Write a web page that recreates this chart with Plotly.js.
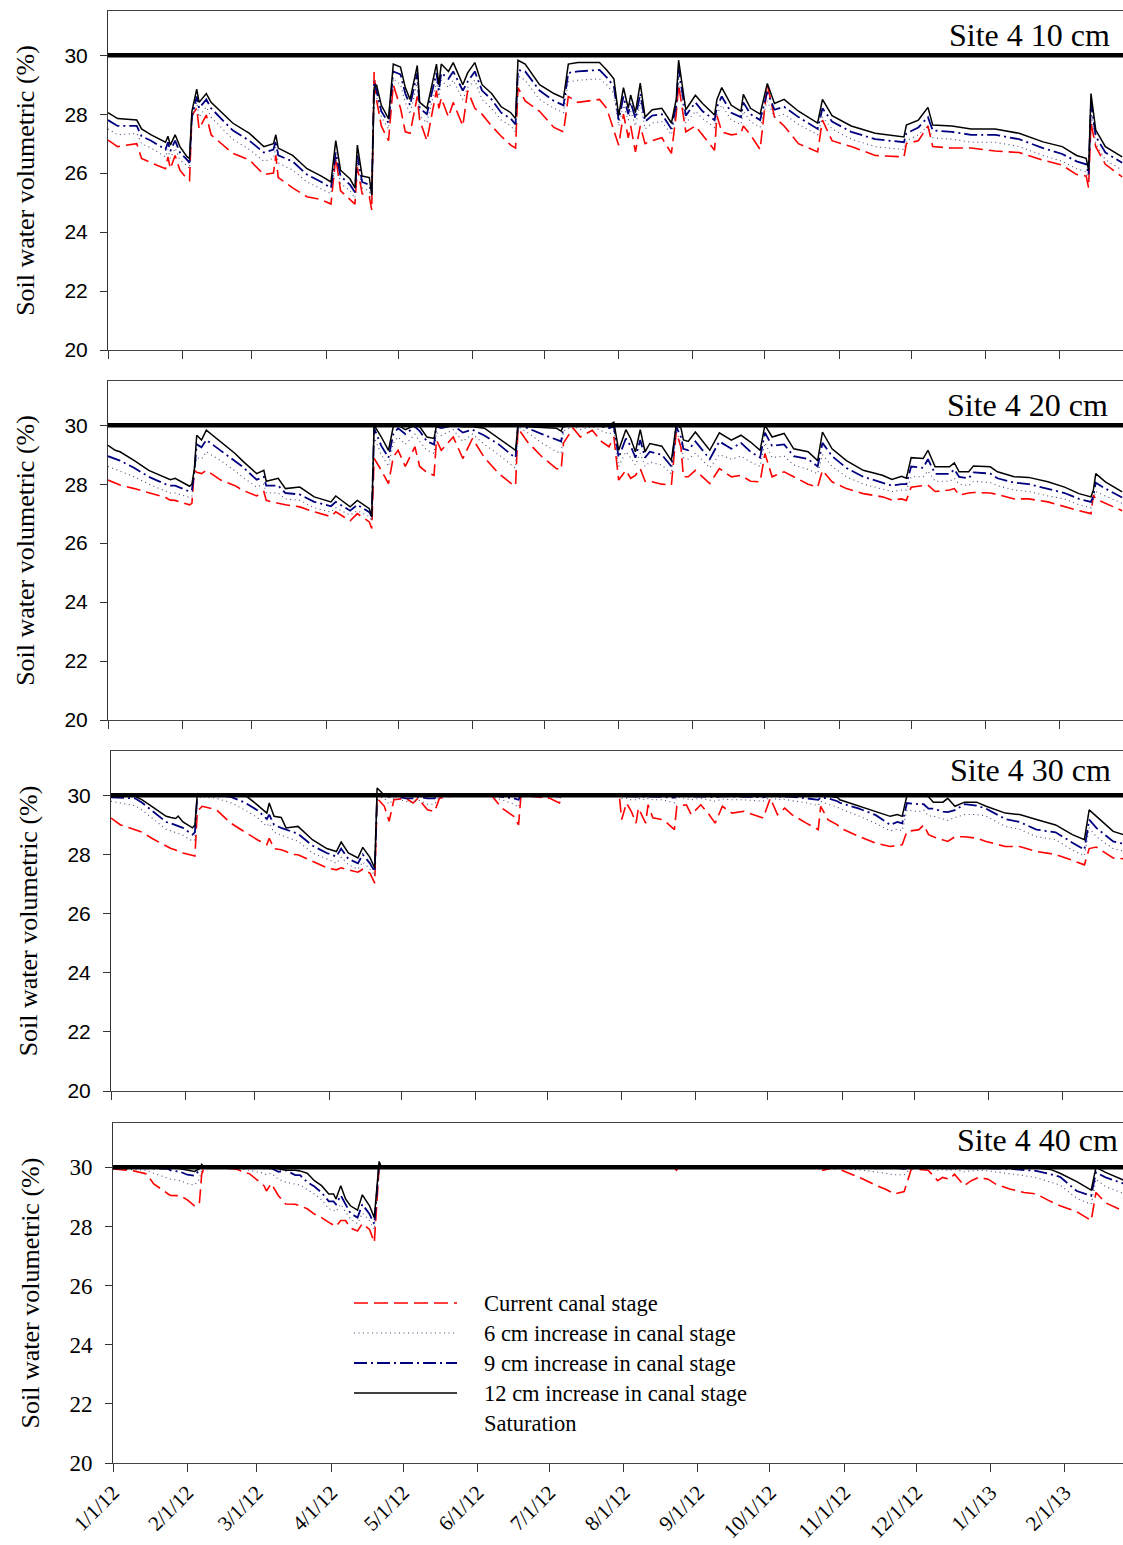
<!DOCTYPE html>
<html><head><meta charset="utf-8">
<script src="https://cdn.plot.ly/plotly-3.0.1.min.js"></script>
<style>html,body{margin:0;padding:0;background:#fff}#chart{width:1123px;height:1545px}</style>
</head><body><div id="chart"></div>
<script>
// ---------- DATA (days since 1 Jan 2012, soil water volumetric %) ----------
const seriesNames = ['Current canal stage','6 cm increase in canal stage','9 cm increase in canal stage','12 cm increase in canal stage','Saturation'];
const panelTitles = ['Site 4 10 cm','Site 4 20 cm','Site 4 30 cm','Site 4 40 cm'];
const yTitle = 'Soil water volumetric (%)';
const tickDates = ['2012-01-01','2012-02-01','2012-03-01','2012-04-01','2012-05-01','2012-06-01','2012-07-01','2012-08-01','2012-09-01','2012-10-01','2012-11-01','2012-12-01','2013-01-01','2013-02-01'];
const tickLabels = ['1/1/12','2/1/12','3/1/12','4/1/12','5/1/12','6/1/12','7/1/12','8/1/12','9/1/12','10/1/12','11/1/12','12/1/12','1/1/13','2/1/13'];
const yTicks = [20,22,24,26,28,30];
const satDays = [0, 425];
const satValues = [30, 30];

// Panel 1 : 10 cm
const p1Days = [0,4,12,14,18,24,25,26,28,30,33,34,35,37,38,41,43,52,59,65,69,70,71,77,83,89,93,95,97,101,103,104,106,109,110,111,112,114,117,119,122,124,126,129,130,133,137,138,139,142,144,148,150,153,156,160,164,168,170,171,174,180,186,190,192,196,205,208,211,213,215,217,218,220,222,224,227,231,235,237,238,241,245,248,253,254,256,260,264,265,268,272,275,278,282,288,296,298,302,310,320,332,333,338,342,344,352,360,370,380,390,398,404,408,409,410,412,416,423];
const p1Inc12 = [28.05,27.85,27.8,27.5,27.3,27.05,27.25,26.95,27.3,26.9,26.55,26.5,28.1,28.85,28.4,28.7,28.4,27.7,27.35,26.9,27.0,27.3,26.85,26.6,26.15,25.9,25.7,27.1,26.1,25.8,25.5,26.95,25.9,25.85,25.25,28.9,29.0,28.3,27.85,29.7,29.6,28.9,28.5,29.65,28.4,28.2,29.7,29.0,29.7,29.45,29.75,29.0,29.4,29.75,29.0,28.7,28.25,28.05,27.85,29.83,29.7,29.0,28.7,28.55,29.7,29.75,29.75,29.5,29.2,27.95,28.9,28.2,28.65,28.05,29.05,27.9,28.15,28.2,27.7,28.5,29.83,28.15,28.64,28.36,27.97,28.5,28.9,28.3,28.1,28.67,28.2,28.0,29.04,28.36,28.5,28.1,27.7,28.5,27.95,27.6,27.35,27.23,27.63,27.8,28.23,27.63,27.6,27.5,27.5,27.35,27.06,26.9,26.6,26.5,26.1,28.7,27.46,26.9,26.55];
const p1Inc9 = [27.8,27.6,27.6,27.25,27.1,26.8,27.05,26.75,27.1,26.7,26.45,26.35,27.9,28.6,28.2,28.5,28.2,27.45,27.1,26.7,26.8,27.1,26.6,26.4,25.95,25.7,25.5,26.7,25.9,25.6,25.35,26.6,25.7,25.6,25.3,29.1,28.8,28.1,27.7,29.45,29.35,28.7,28.3,29.4,28.2,28.0,29.4,28.8,29.4,29.2,29.45,28.8,29.1,29.45,28.8,28.5,28.05,27.85,27.65,29.5,29.45,28.8,28.45,28.3,29.4,29.45,29.5,29.25,28.95,27.8,28.6,28.0,28.4,27.85,28.7,27.75,27.95,28.0,27.5,28.3,29.55,27.95,28.4,28.1,27.8,28.25,28.6,28.05,27.9,28.4,28.0,27.8,28.75,28.15,28.25,27.9,27.5,28.2,27.75,27.4,27.15,27.05,27.35,27.55,27.9,27.45,27.4,27.3,27.3,27.15,26.85,26.65,26.4,26.3,25.95,28.4,27.25,26.7,26.35];
const p1Inc6 = [27.5,27.3,27.35,27.0,26.85,26.55,26.8,26.5,26.85,26.45,26.25,26.15,27.95,28.4,27.9,28.25,27.9,27.15,26.8,26.4,26.5,26.9,26.35,26.1,25.7,25.45,25.3,26.5,25.65,25.4,25.15,26.4,25.5,25.4,25.1,29.2,28.6,27.9,27.5,29.2,29.0,28.4,28.0,29.1,27.95,27.7,29.1,28.6,29.15,28.9,29.15,28.5,28.9,29.15,28.5,28.2,27.8,27.6,27.4,29.3,29.15,28.5,28.2,28.05,29.1,29.15,29.2,29.0,28.7,27.6,28.3,27.8,28.1,27.6,28.4,27.5,27.7,27.75,27.3,28.1,29.2,27.7,28.1,27.85,27.55,28.0,28.3,27.8,27.65,28.1,27.75,27.55,28.45,27.9,28.0,27.65,27.3,27.9,27.5,27.15,26.9,26.8,27.1,27.3,27.6,27.2,27.15,27.05,27.05,26.9,26.6,26.4,26.15,26.05,25.8,28.1,27.0,26.45,26.1];
const p1Current = [27.12,26.9,27.0,26.5,26.35,26.15,26.55,26.15,26.6,26.1,25.8,25.75,27.95,28.2,27.5,27.97,27.3,26.67,26.45,25.95,26.0,26.6,25.85,25.5,25.2,25.1,24.95,26.55,25.4,25.1,24.95,26.2,25.3,25.2,24.75,29.43,28.5,27.6,27.1,29.0,28.2,27.4,27.35,28.6,27.8,27.1,28.8,28.2,28.55,27.9,28.4,27.6,28.8,28.2,28.0,27.6,27.25,26.95,26.85,28.9,28.45,28.1,27.55,27.4,28.6,28.4,28.5,28.2,27.4,26.95,28.0,27.2,27.6,26.72,27.6,27.0,27.1,27.2,26.67,28.0,29.0,27.4,27.6,27.3,26.78,27.95,27.4,27.3,27.35,27.6,27.3,26.8,29.0,27.9,27.6,27.0,26.72,27.8,27.1,26.9,26.6,26.55,27.0,27.1,27.6,26.9,26.85,26.85,26.75,26.7,26.44,26.27,25.95,25.9,25.5,27.7,26.9,26.3,25.87];

// Panel 2 : 20 cm
const p2Days = [0,3,5,11,17,24,26,28,34,35,36,37,39,41,47,53,56,62,65,66,71,74,80,86,93,95,101,104,109,110,111,114,117,119,121,124,128,130,133,136,137,139,144,148,152,157,163,169,170,171,175,181,187,189,190,194,197,202,206,209,211,213,216,218,220,222,224,226,231,235,237,239,240,242,245,251,255,260,264,268,272,274,277,282,286,292,296,298,302,308,315,323,327,331,333,335,340,342,345,351,353,355,359,361,368,371,378,384,392,399,405,410,411,412,416,423];
const p2Inc12 = [29.32,29.15,29.1,28.8,28.47,28.2,28.15,28.2,27.93,28.0,28.5,29.66,29.5,29.83,29.43,29.04,28.8,28.36,28.47,28.1,28.2,27.85,27.9,27.57,27.4,27.6,27.23,27.45,27.17,26.9,30.0,29.6,29.15,29.95,30.0,29.85,30.0,29.95,29.6,29.55,30.0,30.0,30.0,29.95,29.95,29.9,29.55,29.2,29.15,30.0,29.95,29.92,29.9,29.8,30.0,30.0,30.0,30.0,30.0,30.0,30.1,29.15,29.85,29.55,29.1,29.85,29.1,29.38,29.29,28.8,30.0,29.9,29.5,29.45,29.77,29.15,29.74,29.49,29.66,29.43,29.15,30.0,29.6,29.72,29.2,29.1,28.8,29.77,29.2,28.8,28.47,28.3,28.16,28.27,28.2,28.9,28.87,29.15,28.59,28.59,28.72,28.42,28.42,28.62,28.59,28.42,28.25,28.23,28.08,27.9,27.68,27.57,27.8,28.36,28.08,27.74];
const p2Inc9 = [28.95,28.85,28.8,28.55,28.25,28.0,27.95,27.95,27.75,27.8,28.4,29.35,29.25,29.5,29.15,28.8,28.6,28.15,28.25,27.95,27.95,27.7,27.65,27.4,27.25,27.4,27.1,27.3,27.05,26.9,29.9,29.3,28.9,29.7,29.9,29.7,29.95,29.8,29.45,29.35,29.95,29.9,30.0,29.75,29.85,29.65,29.35,28.95,28.9,30.0,29.9,29.7,29.5,29.45,29.95,30.0,29.97,30.0,29.95,29.9,29.95,28.9,29.55,29.3,28.9,29.5,28.9,29.1,29.0,28.6,29.95,29.6,29.2,29.15,29.45,28.85,29.45,29.2,29.4,29.1,28.9,29.75,29.3,29.35,28.95,28.85,28.6,29.4,28.95,28.55,28.25,28.05,27.95,28.0,28.0,28.6,28.55,28.85,28.35,28.35,28.5,28.25,28.2,28.4,28.36,28.2,28.05,28.0,27.85,27.7,27.5,27.4,27.6,28.05,27.85,27.55];
const p2Inc6 = [28.6,28.5,28.45,28.25,28.0,27.75,27.7,27.7,27.55,27.6,28.45,28.9,28.85,29.1,28.8,28.45,28.25,27.9,28.0,27.7,27.7,27.5,27.45,27.2,27.05,27.2,26.95,27.1,26.9,26.75,29.6,29.0,28.6,29.4,29.6,29.35,29.7,29.45,29.15,29.05,29.75,29.65,29.85,29.45,29.7,29.35,29.0,28.6,28.55,29.95,29.75,29.4,29.1,29.05,29.8,29.97,29.85,29.95,29.8,29.7,29.8,28.6,29.1,28.9,28.65,29.05,28.6,28.75,28.65,28.35,29.8,29.4,28.9,28.85,29.05,28.55,29.0,28.85,28.95,28.75,28.6,29.4,28.9,28.95,28.65,28.5,28.35,29.0,28.6,28.25,28.0,27.85,27.75,27.8,27.8,28.25,28.25,28.45,28.1,28.1,28.2,28.0,27.95,28.1,28.05,27.95,27.8,27.75,27.6,27.5,27.3,27.2,27.45,27.75,27.6,27.35];
const p2Current = [28.14,28.05,27.97,27.85,27.7,27.55,27.46,27.45,27.3,27.35,28.47,28.4,28.36,28.47,28.14,27.95,27.8,27.6,27.75,27.45,27.35,27.3,27.23,27.06,26.9,27.06,26.76,27.0,26.72,26.5,28.87,28.47,28.02,28.93,29.15,28.6,29.27,28.6,28.4,28.3,29.5,29.15,29.6,28.87,29.55,28.9,28.36,27.97,27.95,29.9,29.43,28.93,28.53,28.5,29.4,29.9,29.6,29.83,29.43,29.27,29.6,28.14,28.47,28.2,28.3,28.53,28.1,28.1,28.0,27.97,29.77,29.25,28.25,28.25,28.47,28.02,28.53,28.25,28.3,28.1,28.08,29.04,28.25,28.42,28.25,28.0,27.9,28.47,28.08,27.85,27.68,27.57,27.46,27.5,27.45,27.9,27.95,27.97,27.75,27.8,27.85,27.63,27.7,27.72,27.7,27.65,27.5,27.5,27.4,27.23,27.1,27.0,27.63,27.5,27.35,27.1];

// Panel 3 : 30 cm
const p3Days = [0,4,10,13,17,23,25,27,28,30,34,35,36,38,44,50,56,61,65,66,68,71,73,76,78,84,90,94,96,99,103,105,108,110,111,114,116,118,123,126,128,132,135,137,144,159,163,168,170,171,183,187,189,212,213,215,217,219,220,223,224,226,230,232,235,236,240,242,246,249,252,255,259,264,268,272,275,278,281,284,290,295,296,299,303,304,312,319,325,328,330,332,337,339,341,343,347,349,352,356,361,365,373,379,386,394,401,406,408,411,418,423];
const p3Inc12 = [30.0,30.0,29.97,29.85,29.63,29.29,29.25,29.22,29.3,29.1,28.9,29.0,30.05,30.0,30.0,30.0,30.0,29.68,29.4,29.74,29.29,29.25,28.9,28.93,28.95,28.5,28.2,28.1,28.42,28.05,27.88,28.24,27.9,27.54,30.25,30.0,30.0,30.0,30.0,30.0,30.0,30.0,30.0,30.0,30.0,30.0,30.0,30.0,30.0,30.0,30.0,30.0,30.0,30.0,30.0,30.0,30.0,30.0,30.0,30.0,30.0,30.0,30.0,30.0,30.0,30.0,30.0,30.0,30.0,30.0,30.0,30.0,30.0,30.0,30.0,30.0,30.0,30.0,30.0,30.0,30.0,29.98,30.0,29.97,29.93,29.85,29.63,29.46,29.29,29.35,29.29,30.0,30.0,30.0,29.95,29.77,29.77,29.9,29.63,29.77,29.77,29.63,29.4,29.35,29.18,29.0,28.67,28.5,29.51,29.29,28.78,28.65];
const p3Inc9 = [29.93,29.92,29.9,29.75,29.5,29.1,29.05,29.0,28.95,28.9,28.67,28.75,30.0,30.0,29.98,29.95,29.75,29.5,29.2,29.35,29.0,28.9,28.85,28.75,28.7,28.3,28.05,27.93,28.2,27.85,27.7,28.0,27.7,27.42,30.0,30.0,29.95,29.97,29.9,29.9,29.95,29.9,29.9,30.0,30.0,30.0,29.95,29.9,29.85,30.0,30.0,29.95,30.0,30.0,29.97,29.97,29.95,29.95,29.97,29.95,29.97,29.95,29.95,29.93,29.92,30.0,29.97,29.95,29.97,29.95,29.93,29.97,29.95,29.95,29.95,29.93,30.0,29.95,29.96,29.95,29.9,29.85,29.92,29.9,29.8,29.75,29.55,29.33,29.0,29.1,29.05,29.74,29.7,29.7,29.55,29.55,29.45,29.43,29.5,29.7,29.65,29.55,29.2,29.1,28.84,28.75,28.4,28.16,29.18,28.9,28.44,28.35];
const p3Inc6 = [29.8,29.75,29.65,29.5,29.25,28.85,28.8,28.75,28.7,28.65,28.45,28.5,29.9,29.95,29.9,29.75,29.5,29.25,28.95,29.05,28.75,28.65,28.6,28.5,28.45,28.05,27.85,27.7,27.9,27.65,27.5,27.75,27.5,27.3,29.95,29.9,29.7,29.9,29.8,29.75,29.85,29.7,29.7,29.95,29.98,29.95,29.85,29.7,29.6,29.98,29.95,29.9,29.98,29.98,29.9,29.9,29.85,29.85,29.9,29.85,29.9,29.85,29.85,29.8,29.75,29.95,29.9,29.85,29.9,29.85,29.8,29.88,29.85,29.85,29.82,29.8,29.95,29.85,29.87,29.82,29.75,29.65,29.8,29.7,29.6,29.55,29.3,29.05,28.8,28.85,28.8,29.5,29.45,29.5,29.3,29.3,29.2,29.15,29.25,29.35,29.35,29.3,28.95,28.85,28.6,28.5,28.15,27.95,28.9,28.6,28.2,28.1];
const p3Current = [29.23,29.0,28.84,28.75,28.55,28.3,28.2,28.15,28.1,28.05,27.99,27.95,29.46,29.63,29.51,29.06,28.75,28.5,28.33,28.55,28.2,28.16,28.1,28.0,27.99,27.76,27.55,27.48,27.55,27.48,27.4,27.5,27.37,27.03,29.9,29.63,29.12,29.85,29.9,29.74,29.9,29.51,29.45,29.9,30.0,29.97,29.57,29.29,29.0,30.0,29.9,29.74,30.0,30.0,29.18,29.74,29.46,29.06,29.57,29.06,29.68,29.24,29.18,29.06,28.84,29.63,29.68,29.35,29.68,29.4,29.06,29.63,29.4,29.46,29.35,29.23,29.9,29.35,29.57,29.35,29.06,28.84,29.63,29.18,29.0,28.9,28.61,28.38,28.27,28.3,28.33,28.78,28.84,29.0,28.67,28.6,28.5,28.44,28.6,28.6,28.55,28.44,28.27,28.27,28.1,28.0,27.8,27.65,28.2,28.25,27.88,27.85];

// Panel 4 : 40 cm
const p4Days = [0,8,14,17,23,24,28,31,34,36,37,38,51,57,63,64,66,69,72,76,78,81,84,87,90,92,93,95,97,99,102,104,107,109,111,112,234,235,236,293,296,300,304,308,313,318,322,326,330,333,340,344,346,349,351,355,358,361,365,368,374,380,385,391,395,402,408,410,414,422];
const p4Inc12 = [30.0,30.0,30.0,30.0,30.0,30.0,29.95,29.9,29.86,29.95,30.1,30.0,30.0,30.0,30.0,30.0,30.0,29.95,29.9,29.9,29.88,29.8,29.55,29.38,29.1,29.1,28.93,29.38,28.93,28.7,28.55,29.07,28.7,28.3,30.2,30.0,30.0,30.0,30.0,30.0,30.0,30.0,30.0,30.0,30.0,30.0,30.0,30.0,29.97,30.0,30.0,30.0,30.0,30.0,30.0,30.0,30.0,30.0,30.0,30.0,30.0,30.0,29.98,29.93,29.8,29.52,29.23,30.0,29.83,29.55];
const p4Inc9 = [30.0,29.98,29.97,29.95,29.95,29.9,29.85,29.75,29.72,29.9,30.0,30.0,30.0,29.98,29.97,29.95,29.97,29.85,29.9,29.74,29.74,29.5,29.35,29.15,28.85,28.85,28.75,29.05,28.75,28.45,28.3,28.75,28.42,28.08,30.1,30.0,30.0,30.0,30.0,30.0,30.0,30.0,30.0,30.0,29.98,29.97,29.97,29.98,29.95,30.0,30.0,29.97,29.98,29.97,29.98,29.97,29.97,29.98,29.97,29.96,29.95,29.92,29.88,29.77,29.68,29.2,29.04,29.83,29.66,29.44];
const p4Inc6 = [29.95,29.93,29.9,29.8,29.65,29.6,29.55,29.45,29.4,29.6,29.9,30.0,29.97,29.9,29.8,29.75,29.8,29.6,29.5,29.45,29.4,29.25,29.1,28.9,28.6,28.55,28.5,28.75,28.5,28.25,28.1,28.45,28.2,27.9,30.0,30.0,30.0,29.98,30.0,30.0,29.98,30.0,29.97,29.95,29.9,29.85,29.8,29.75,29.75,29.98,29.97,29.9,29.92,29.9,29.93,29.85,29.88,29.9,29.88,29.85,29.8,29.72,29.65,29.5,29.4,28.95,28.75,29.6,29.35,29.1];
const p4Current = [29.95,29.89,29.78,29.44,29.1,29.05,29.04,28.9,28.7,28.75,29.77,30.0,29.95,29.78,29.38,29.2,29.45,29.04,28.76,28.75,28.7,28.6,28.42,28.3,28.14,28.05,28.0,28.2,28.2,27.95,27.85,28.1,27.9,27.46,30.0,30.0,30.0,29.9,30.0,30.0,29.9,29.98,29.9,29.77,29.6,29.4,29.27,29.1,29.18,29.95,29.9,29.55,29.66,29.6,29.77,29.38,29.55,29.66,29.6,29.44,29.27,29.15,29.1,28.85,28.7,28.5,28.2,29.15,28.8,28.5];

// ---------- BUILD ----------
const SERIF = '"Liberation Serif", "Times New Roman", serif';
const SANS = '"Liberation Sans", Arial, sans-serif';
function toDate(d){ return new Date(Date.UTC(2012,0,1) + Math.round(d*86400000)).toISOString().slice(0,19).replace('T',' '); }

const panels = [
  {days:p1Days, s:[p1Current,p1Inc6,p1Inc9,p1Inc12]},
  {days:p2Days, s:[p2Current,p2Inc6,p2Inc9,p2Inc12]},
  {days:p3Days, s:[p3Current,p3Inc6,p3Inc9,p3Inc12]},
  {days:p4Days, s:[p4Current,p4Inc6,p4Inc9,p4Inc12]}
];
const geom = [
  {left:108, top:11,   bottom:350},
  {left:108, top:381,  bottom:720},
  {left:111, top:751,  bottom:1091},
  {left:113, top:1123, bottom:1463}
];
const ML = 108, MT = 11, PW = 1123 - ML, PH = 1463 - MT;
const pxPerDay = 2.3975;
const styles = [
  {color:'#ff0000', width:1.6, dash:'14px,6px'},
  {color:'#4a4a7a', width:1.1, dash:'1px,3.5px'},
  {color:'#000080', width:1.8, dash:'13px,4px,2px,4px'},
  {color:'#000000', width:1.5, dash:'solid'}
];

const traces = [];
const layout = {
  width:1123, height:1545,
  margin:{l:ML, r:0, t:MT, b:1545-1463},
  paper_bgcolor:'#fff', plot_bgcolor:'#fff',
  showlegend:false,
  font:{family:SERIF, color:'#000'},
  annotations:[], shapes:[]
};

panels.forEach((p, i) => {
  const n = i === 0 ? '' : String(i+1);
  const xa = 'x'+n, ya = 'y'+n;
  const dates = p.days.map(toDate);
  p.s.forEach((vals, k) => {
    traces.push({type:'scatter', mode:'lines', x:dates, y:vals, xaxis:xa, yaxis:ya,
      name:seriesNames[k], line:Object.assign({shape:'linear'}, styles[k]), hoverinfo:'x+y'});
  });
  traces.push({type:'scatter', mode:'lines', x:satDays.map(toDate), y:satValues, xaxis:xa, yaxis:ya,
    name:seriesNames[4], line:{color:'#000', width:4.5}, hoverinfo:'skip'});

  const g = geom[i];
  const endDay = (1123 - g.left) / pxPerDay;
  layout['xaxis'+n] = {
    type:'date', domain:[(g.left-ML)/PW, 1], anchor:ya,
    range:[toDate(0), toDate(endDay)],
    tickmode:'array', tickvals:tickDates, ticktext:tickLabels,
    showticklabels: i === 3, ticks:'outside', ticklen:8, tickwidth:1, tickcolor:'#333',
    showline:true, linecolor:'#444', linewidth:1, mirror:true,
    showgrid:false, zeroline:false, tickangle:-45,
    tickfont:{family:SERIF, size:21, color:'#000'}
  };
  layout['yaxis'+n] = {
    domain:[(1463-g.bottom)/PH, (1463-g.top)/PH], anchor:xa,
    range:[20, 31.5], tickmode:'array', tickvals:yTicks,
    ticks:'outside', ticklen:7, tickwidth:1, tickcolor:'#333',
    showline:true, linecolor:'#333', linewidth:1, mirror:false,
    showgrid:false, zeroline:false, ticklabelstandoff:8,
    tickfont: i === 3 ? {family:SERIF, size:23, color:'#000'} : {family:SANS, size:21, color:'#000'},
    title:{text:yTitle, font:{family:SERIF, size:26, color:'#000'}, standoff:22}
  };
  const titlePos = [[1112,35],[1110,405],[1113,770],[1120,1140]][i];
  layout.annotations.push({xref:'paper', yref:'paper', x:(titlePos[0]-ML)/PW, y:(1463-titlePos[1])/PH,
    xanchor:'right', yanchor:'middle', showarrow:false, text:panelTitles[i],
    font:{family:SERIF, size:32, color:'#000'}});
});

// manual legend inside panel 4
const legRows = [1303,1333,1363,1393,1423];
legRows.forEach((py, k) => {
  const yy = (1463-py)/PH;
  if (k < 4) {
    layout.shapes.push({type:'line', xref:'paper', yref:'paper',
      x0:(354-ML)/PW, x1:(457-ML)/PW, y0:yy, y1:yy,
      line:{color:styles[k].color, width:styles[k].width, dash:styles[k].dash}});
  }
  layout.annotations.push({xref:'paper', yref:'paper', x:(482-ML)/PW, y:yy,
    xanchor:'left', yanchor:'middle', showarrow:false, text:seriesNames[k],
    font:{family:SERIF, size:22.5, color:'#000'}});
});

Plotly.newPlot('chart', traces, layout, {staticPlot:true, displayModeBar:false});
</script>
</body></html>
